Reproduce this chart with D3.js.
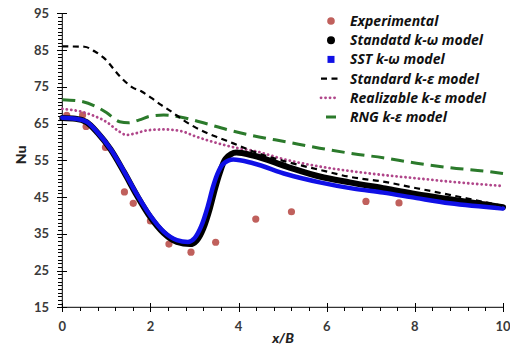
<!DOCTYPE html>
<html>
<head>
<meta charset="utf-8">
<script src="https://cdn.jsdelivr.net/npm/d3@7"></script>
<style>
  html, body { margin: 0; padding: 0; background: #fff; }
  svg { display: block; }
  .tick-label { font-family: Lato, "Open Sans", sans-serif; font-weight: 700; font-size: 13px; fill: #3a3a3a; }
  .axis-title { font-family: Lato, "Open Sans", sans-serif; font-weight: 900; font-size: 14px; fill: #222; }
  .legend-text { font-family: "Open Sans", Lato, sans-serif; font-weight: 700; font-style: italic; font-size: 14px; fill: #111; }
</style>
</head>
<body>
<svg id="chart" width="510" height="347"></svg>
<script>
// Nusselt number along the wall (x/B) – measurements and turbulence models
const experimental = [
  [0.10, 67.2], [0.46, 67.3], [0.54, 64.2], [0.98, 58.5], [1.41, 46.4],
  [1.61, 43.3], [2.00, 38.5], [2.42, 32.2], [2.92, 30.0], [3.48, 32.7],
  [4.39, 39.0], [5.20, 41.0], [6.89, 43.8], [7.64, 43.4], [9.60, 42.8]
];
const standardKOmega = [
  [0, 66.5], [0.3, 66.3], [0.55, 65.4], [0.8, 62.5], [1.1, 57.9], [1.4, 51.8],
  [1.7, 45.3], [2.0, 39.5], [2.3, 35.2], [2.6, 32.8], [2.9, 32.2], [3.05, 33.2],
  [3.2, 36.5], [3.35, 42.0], [3.47, 47.5], [3.57, 51.5], [3.7, 55.3], [3.95, 57.1],
  [4.33, 56.3], [5.09, 53.3], [5.84, 50.6], [6.52, 49.0], [7.28, 47.4],
  [8.04, 45.8], [8.79, 44.4], [10, 42.2]
];
const sstKOmega = [
  [0, 66.6], [0.3, 66.3], [0.55, 65.5], [0.8, 62.6], [1.1, 58.0], [1.4, 52.0],
  [1.7, 45.6], [2.0, 39.9], [2.3, 35.6], [2.6, 33.3], [2.85, 32.8], [3.0, 33.8],
  [3.15, 37.0], [3.3, 42.4], [3.42, 47.8], [3.52, 51.3], [3.65, 54.0], [3.88, 55.2],
  [4.33, 54.2], [5.09, 51.2], [5.84, 49.0], [6.6, 47.3], [7.28, 46.2],
  [8.04, 44.7], [8.79, 43.3], [10, 41.9]
];
const standardKEps = [
  [0, 86.0], [0.5, 85.9], [0.74, 84.6], [0.93, 83.0], [1.35, 77.3], [1.57, 75.0],
  [1.8, 73.7], [2.03, 71.9], [2.25, 70.0], [2.48, 68.2], [2.74, 66.0], [3.0, 64.1],
  [3.27, 62.5], [3.58, 61.0], [3.88, 59.6], [4.33, 57.4], [5.09, 54.6],
  [5.84, 52.4], [6.52, 50.5], [7.28, 49.2], [8.04, 47.4], [8.79, 45.6],
  [9.55, 43.7], [10, 42.6]
];
const realizableKEps = [
  [0, 69.0], [0.44, 68.2], [0.74, 67.0], [1.02, 65.3], [1.27, 63.0], [1.46, 61.9],
  [1.65, 62.3], [1.95, 63.2], [2.33, 63.4], [2.74, 62.8], [3.0, 61.6], [3.42, 60.0],
  [4.03, 58.2], [4.33, 57.6], [5.09, 55.1], [5.84, 53.3], [6.52, 52.1],
  [7.28, 51.0], [8.04, 50.1], [8.79, 49.2], [10, 48.0]
];
const rngKEps = [
  [0, 71.5], [0.4, 71.1], [0.77, 69.6], [1.0, 68.0], [1.3, 65.5], [1.5, 65.2],
  [1.75, 66.0], [2.0, 67.0], [2.3, 67.3], [2.67, 66.8], [3.2, 65.2], [3.73, 63.4],
  [4.33, 61.7], [5.09, 60.0], [5.84, 58.3], [6.6, 56.8], [7.28, 55.7],
  [8.04, 54.2], [8.79, 53.0], [9.7, 51.9], [10, 51.4]
];
const xTicks = [0, 2, 4, 6, 8, 10];
const yTicks = [15, 25, 35, 45, 55, 65, 75, 85, 95];
const legendLabels = [
  "Experimental", "Standatd k-\u03c9 model", "SST k-\u03c9 model",
  "Standard k-\u03b5 model", "Realizable k-\u03b5 model", "RNG k-\u03b5 model"
];

const svg = d3.select("#chart");
const x = d3.scaleLinear().domain([0, 10]).range([62.3, 503]);
const y = d3.scaleLinear().domain([15, 95]).range([307.3, 13.3]);

const line = d3.line()
  .x(d => x(d[0]))
  .y(d => y(d[1]))
  .curve(d3.curveMonotoneX);

// ---- axes ----
const gY = svg.append("g").attr("transform", `translate(${x(0)},0)`);
gY.call(d3.axisLeft(y).tickValues(d3.range(15, 96, 1)).tickSize(4).tickFormat(""));
gY.select(".domain").remove();
const gYMaj = svg.append("g").attr("transform", `translate(${x(0) + 5},0)`);
gYMaj.call(d3.axisLeft(y).tickValues(yTicks).tickSize(10).tickFormat(""));
gYMaj.select(".domain").remove();
svg.append("line").attr("x1", x(0)).attr("x2", x(0))
  .attr("y1", y(95)).attr("y2", y(15)).attr("stroke", "#000");

const gX = svg.append("g").attr("transform", `translate(0,${y(15)})`);
gX.call(d3.axisBottom(x).tickValues(d3.range(0, 10.01, 0.4)).tickSize(4).tickFormat(""));
gX.select(".domain").remove();
const gXMaj = svg.append("g").attr("transform", `translate(0,${y(15) - 4.5})`);
gXMaj.call(d3.axisBottom(x).tickValues(xTicks).tickSize(9).tickFormat(""));
gXMaj.select(".domain").remove();
svg.append("line").attr("x1", x(0)).attr("x2", x(10))
  .attr("y1", y(15)).attr("y2", y(15)).attr("stroke", "#000");
svg.selectAll(".tick line").attr("stroke", "#000").attr("shape-rendering", "crispEdges");

svg.append("g").selectAll("text").data(yTicks).join("text")
  .attr("class", "tick-label")
  .attr("x", 49).attr("y", d => y(d)).attr("dy", "0.35em")
  .attr("text-anchor", "end").text(d => d);
svg.append("g").selectAll("text").data(xTicks).join("text")
  .attr("class", "tick-label")
  .attr("x", d => x(d)).attr("y", 331)
  .attr("text-anchor", "middle").text(d => d);

svg.append("text").attr("class", "axis-title")
  .attr("transform", "translate(26,155) rotate(-90)")
  .attr("text-anchor", "middle").text("Nu");
svg.append("text").attr("class", "axis-title")
  .attr("font-style", "italic")
  .attr("x", 283).attr("y", 343)
  .attr("text-anchor", "middle").text("x/B");

// ---- data ----
const plot = svg.append("g");
plot.selectAll("circle.exp").data(experimental).join("circle")
  .attr("class", "exp")
  .attr("cx", d => x(d[0])).attr("cy", d => y(d[1])).attr("r", 3.6)
  .attr("fill", "#c0605c");

plot.append("path").datum(rngKEps).attr("d", line)
  .attr("fill", "none").attr("stroke", "#2b7a2b").attr("stroke-width", 3)
  .attr("stroke-dasharray", "13,7");
plot.append("path").datum(realizableKEps).attr("d", line)
  .attr("fill", "none").attr("stroke", "#b0468a").attr("stroke-width", 2.8)
  .attr("stroke-linecap", "round").attr("stroke-dasharray", "0.1,4.4");
plot.append("path").datum(standardKOmega).attr("d", line)
  .attr("fill", "none").attr("stroke", "#000").attr("stroke-width", 6)
  .attr("stroke-linejoin", "round").attr("stroke-linecap", "round");
plot.append("path").datum(sstKOmega).attr("d", line)
  .attr("fill", "none").attr("stroke", "#1010e6").attr("stroke-width", 4.5)
  .attr("stroke-linejoin", "round").attr("stroke-linecap", "round");
plot.append("path").datum(standardKEps).attr("d", line)
  .attr("fill", "none").attr("stroke", "#000").attr("stroke-width", 2.2)
  .attr("stroke-dasharray", "6,4.5");

// ---- legend ----
const leg = svg.append("g");
const rowY = i => 21 + i * 19.2;
leg.selectAll("text").data(legendLabels).join("text")
  .attr("class", "legend-text")
  .attr("x", 350).attr("y", (d, i) => rowY(i)).attr("dy", "0.36em")
  .text(d => d);
leg.append("circle").attr("cx", 331).attr("cy", rowY(0)).attr("r", 3.8).attr("fill", "#c0605c");
leg.append("circle").attr("cx", 331).attr("cy", rowY(1)).attr("r", 4).attr("fill", "#000");
leg.append("rect").attr("x", 327.5).attr("y", rowY(2) - 3.5).attr("width", 7).attr("height", 7).attr("fill", "#1010e6");
leg.append("line").attr("x1", 321).attr("x2", 339).attr("y1", rowY(3)).attr("y2", rowY(3))
  .attr("stroke", "#000").attr("stroke-width", 2.2).attr("stroke-dasharray", "6,4.5");
leg.append("line").attr("x1", 321).attr("x2", 339).attr("y1", rowY(4)).attr("y2", rowY(4))
  .attr("stroke", "#b0468a").attr("stroke-width", 2.8).attr("stroke-linecap", "round")
  .attr("stroke-dasharray", "0.1,4.4");
leg.append("line").attr("x1", 326).attr("x2", 336).attr("y1", rowY(5)).attr("y2", rowY(5))
  .attr("stroke", "#2b7a2b").attr("stroke-width", 3);
</script>
</body>
</html>
